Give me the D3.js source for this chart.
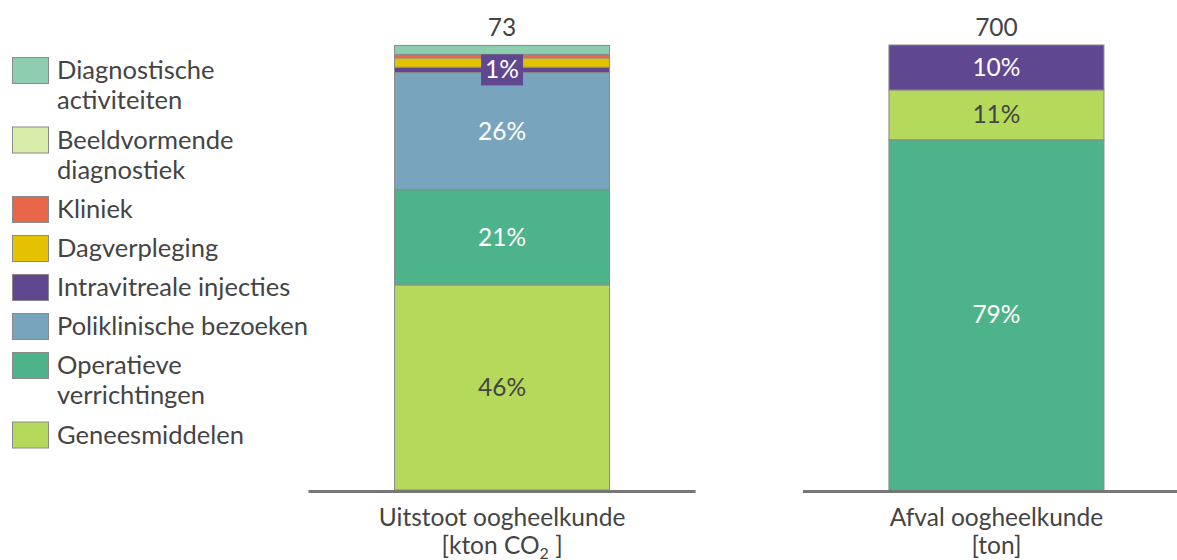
<!DOCTYPE html>
<html>
<head>
<meta charset="utf-8">
<script src="https://cdn.jsdelivr.net/npm/d3@7"></script>
<style>
  body { margin: 0; background: #fff; }
  text { font-family: Lato, "Open Sans", sans-serif; fill: #444; }
</style>
</head>
<body>
<div class="chart"></div>
<script>
var svgWidth = 1177;
var svgHeight = 560;

// categories (bars) and their totals
var bars = ["Uitstoot oogheelkunde", "Afval oogheelkunde"];
var barUnits = ["[kton CO|2|]", "[ton]"];
var totals = [73, 700];

// series (legend order reversed)
var series = ["Geneesmiddelen", "Operatieve verrichtingen", "Poliklinische bezoeken",
  "Intravitreale injecties", "Dagverpleging", "Kliniek", "Beeldvormende diagnostiek",
  "Diagnostische activiteiten"];
var colors = ["#b5d95a", "#4db38a", "#78a5bd", "#5f4890", "#e5c200", "#e8674a", "#d8edaa", "#8fcdb0"];
// share in % per series, one array per bar
var shareUitstoot = [46.1, 21.4, 26.3, 1.2, 2.1, 0.7, 0.1, 2.0];
var shareAfval = [11.2, 78.7, 0, 10.1, 0, 0, 0, 0];

// stacking order per bar, bottom to top
var orderUitstoot = series;
var orderAfval = ["Operatieve verrichtingen", "Geneesmiddelen", "Intravitreale injecties",
  "Poliklinische bezoeken", "Dagverpleging", "Kliniek", "Beeldvormende diagnostiek",
  "Diagnostische activiteiten"];

// legend lines (top to bottom)
var legendLines = [
  ["Diagnostische", "activiteiten"],
  ["Beeldvormende", "diagnostiek"],
  ["Kliniek"],
  ["Dagverpleging"],
  ["Intravitreale injecties"],
  ["Poliklinische bezoeken"],
  ["Operatieve", "verrichtingen"],
  ["Geneesmiddelen"]
];

var shares = [shareUitstoot, shareAfval];
var orders = [orderUitstoot, orderAfval];
var table = bars.map(function(b, i) {
  var row = { bar: b };
  series.forEach(function(s, j) { row[s] = shares[i][j]; });
  return row;
});

// stack each bar with its own order
var segments = [];
table.forEach(function(row, i) {
  d3.stack().keys(orders[i])([row]).forEach(function(layer) {
    var p = layer[0];
    if (p[1] - p[0] > 0) {
      segments.push({ bar: row.bar, key: layer.key, y0: p[0], y1: p[1] });
    }
  });
});

var svg = d3.select(".chart")
  .append("svg")
  .attr("width", svgWidth)
  .attr("height", svgHeight);

var x = d3.scaleBand()
  .domain(bars)
  .range([308.5, 1190])
  .paddingInner(0.217)
  .paddingOuter(0);

var barWidth = 215;

var y = d3.scaleLinear()
  .domain([0, 100])
  .range([490, 45]);

var color = d3.scaleOrdinal().domain(series).range(colors);

// segments
svg.append("g").selectAll("rect")
  .data(segments)
  .enter()
  .append("rect")
  .attr("x", d => x(d.bar) + (x.bandwidth() - barWidth) / 2)
  .attr("width", barWidth)
  .attr("y", d => y(d.y1))
  .attr("height", d => y(d.y0) - y(d.y1))
  .attr("fill", d => color(d.key))
  .attr("stroke", "#8a8a8a")
  .attr("stroke-width", 1);

// percentage labels
segments.forEach(function(d) {
  var v = d.y1 - d.y0;
  var cx = x(d.bar) + x.bandwidth() / 2;
  var cy = (y(d.y0) + y(d.y1)) / 2;
  var light = d.key === "Geneesmiddelen";
  if (v >= 5) {
    svg.append("text")
      .attr("x", cx)
      .attr("y", cy)
      .attr("dy", "0.35em")
      .attr("text-anchor", "middle")
      .attr("font-size", "24.5px")
      .style("fill", light ? "#444" : "#fff")
      .text(Math.round(v) + "%");
  } else if (d.key === "Intravitreale injecties") {
    svg.append("rect")
      .attr("x", cx - 21)
      .attr("y", cy - 15.5)
      .attr("width", 42)
      .attr("height", 31)
      .attr("fill", color(d.key));
    svg.append("text")
      .attr("x", cx)
      .attr("y", cy)
      .attr("dy", "0.35em")
      .attr("text-anchor", "middle")
      .attr("font-size", "24.5px")
      .style("fill", "#fff")
      .text(Math.round(v) + "%");
  }
});

// totals above the bars
svg.append("g").selectAll("text")
  .data(bars)
  .enter()
  .append("text")
  .attr("x", d => x(d) + x.bandwidth() / 2)
  .attr("y", 36)
  .attr("text-anchor", "middle")
  .attr("font-size", "24.5px")
  .text((d, i) => totals[i]);

// baseline per bar
svg.append("g").selectAll("line")
  .data(bars)
  .enter()
  .append("line")
  .attr("x1", d => x(d))
  .attr("x2", d => x(d) + x.bandwidth())
  .attr("y1", 491.5)
  .attr("y2", 491.5)
  .attr("stroke", "#777")
  .attr("stroke-width", 3);

// category labels
bars.forEach(function(b, i) {
  var cx = x(b) + x.bandwidth() / 2;
  svg.append("text")
    .attr("x", cx)
    .attr("y", 526)
    .attr("text-anchor", "middle")
    .attr("font-size", "24.5px")
    .text(b);
  var unit = svg.append("text")
    .attr("x", cx)
    .attr("y", 554)
    .attr("text-anchor", "middle")
    .attr("font-size", "24.5px");
  var parts = barUnits[i].split("|");
  unit.append("tspan").text(parts[0]);
  if (parts.length > 1) {
    unit.append("tspan").attr("font-size", "16px").attr("dy", 5).text(parts[1]);
    unit.append("tspan").attr("dy", -5).text(" " + parts[2]);
  }
});

// legend
var legend = svg.append("g");
var ly = 57;
legendLines.forEach(function(lines, i) {
  var key = series[series.length - 1 - i];
  legend.append("rect")
    .attr("x", 12.5)
    .attr("y", ly + 0.5)
    .attr("width", 36)
    .attr("height", 26)
    .attr("fill", color(key))
    .attr("stroke", "#8a8a8a")
    .attr("stroke-width", 1);
  lines.forEach(function(t, k) {
    legend.append("text")
      .attr("x", 57)
      .attr("y", ly + 22 + k * 30)
      .attr("font-size", "25.5px")
      .text(t);
  });
  ly += lines.length > 1 ? 69.5 : 39;
});
</script>
</body>
</html>
